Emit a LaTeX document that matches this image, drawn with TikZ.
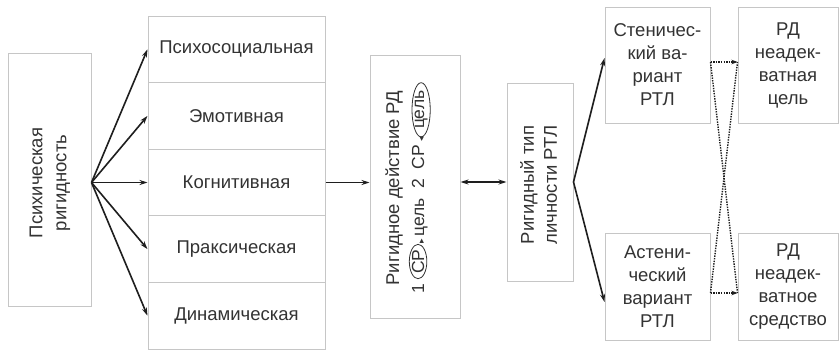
\documentclass[tikz,border=0pt]{standalone}
\usepackage{fontspec}
\setmainfont{Liberation Sans}
\newfontfamily\dejavu{DejaVu Sans}
\usetikzlibrary{arrows.meta,calc,shapes.geometric}
\definecolor{bordc}{HTML}{C6C6C6}
\definecolor{txtc}{HTML}{333333}
\definecolor{linec}{HTML}{1E1E1E}
\begin{document}
\begin{tikzpicture}[x=1pt,y=-1pt,
  box/.style={draw=bordc,line width=1pt,fill=white,inner sep=0pt},
  txt/.style={text=txtc,font=\fontsize{18.5}{23}\selectfont,align=center,inner sep=0pt},
  arr/.style={draw=linec,line width=1.6pt,-{Stealth[length=8pt,width=5pt]}},
  darr/.style={draw=linec,line width=1.6pt,{Stealth[length=8pt,width=5pt]}-{Stealth[length=8pt,width=5pt]}},
  dotl/.style={draw=linec,line width=1.4pt,dash pattern=on 1.4pt off 1.2pt},
  dotarr/.style={dotl,-{Stealth[length=6pt,width=4.5pt]}},
  ell/.style={draw=txtc,ellipse,inner sep=0pt,line width=0.8pt,text=txtc}]
\fill[white] (0,0) rectangle (840,351);
\useasboundingbox (0,0) rectangle (840,351);
% left box
\node[box,minimum width=83pt,minimum height=253pt] (pr) at (49.5,179.5) {};
\node[txt,rotate=90,font=\fontsize{18.5}{24}\selectfont] (prt) at (50,183) {Психическая\\ригидность};
% stack
\node[box,txt,minimum width=177pt,minimum height=66.6pt] (r1) at (236.5,49.3) {Психосоциальная};
\node[box,txt,minimum width=177pt,minimum height=66.6pt] (r2) at (236.5,115.9) {Эмотивная};
\node[box,txt,minimum width=177pt,minimum height=66.6pt] (r3) at (236.5,182.5) {Когнитивная};
\node[box,txt,minimum width=177pt,minimum height=66.6pt] (r4) at (236.5,249.1) {Праксическая};
\node[box,txt,minimum width=177pt,minimum height=66.6pt] (r5) at (236.5,315.7) {Динамическая};
% rigid action
\node[box,minimum width=90pt,minimum height=263pt] (rd) at (415,186.5) {};
\node[txt,rotate=90,font=\fontsize{18.5}{25}\selectfont] (rdt) at (408,188)
  {Ригидное действие РД\\{\fontsize{17.5}{25}\selectfont 1 \tikz[baseline=(e1.base)]\node[ell] (e1) {СР};{\dejavu\fontsize{9}{9}\selectfont ▸}\,цель\ \ 2\ \ СР\,{\dejavu\fontsize{9}{9}\selectfont ◂}\tikz[baseline=(e2.base)]\node[ell] (e2) {цель};}};
% rigid type
\node[box,minimum width=66pt,minimum height=198pt] (rt) at (540,182) {};
\node[txt,rotate=90] (rtt) at (538.5,185) {Ригидный тип\\личности РТЛ};
% right boxes
\node[box,txt,minimum width=105pt,minimum height=116pt] (st) at (657.5,65) {Стеничес-\\кий ва-\\риант\\РТЛ};
\node[box,txt,minimum width=105pt,minimum height=107pt] (as) at (657.5,286.5) {Астени-\\ческий\\вариант\\РТЛ};
\node[box,txt,minimum width=100pt,minimum height=116pt] (ce) at (788,65) {РД\\неадек-\\ватная\\цель};
\node[box,txt,minimum width=100pt,minimum height=107pt] (me) at (788,286.5) {РД\\неадек-\\ватное\\средство};
% fan
\coordinate (o) at (pr.east |- r3.west);
\foreach \r in {r1,r2,r3,r4,r5} \draw[arr] (o) -- (\r.west);
\draw[arr] (r3.east) -- (r3.east -| rd.west);
\draw[darr] (rd.east |- rt.west) -- (rt.west);
\coordinate (sIn) at ($(st.west)+(0,-7)$);
\coordinate (aIn) at ($(as.west)+(0,15.5)$);
\draw[arr] (rt.east) -- (sIn);
\draw[arr] (rt.east) -- (aIn);
% dotted cross
\coordinate (sA) at ($(st.east)+(0,-3)$);
\coordinate (cA) at (sA -| ce.west);
\coordinate (aB) at ($(as.east)+(0,6.5)$);
\coordinate (mB) at (aB -| me.west);
\draw[dotarr] (sA) -- (cA);
\draw[dotarr] (aB) -- (mB);
\draw[dotl] (sA) -- (mB);
\draw[dotl] (aB) -- (cA);
\end{tikzpicture}
\end{document}
